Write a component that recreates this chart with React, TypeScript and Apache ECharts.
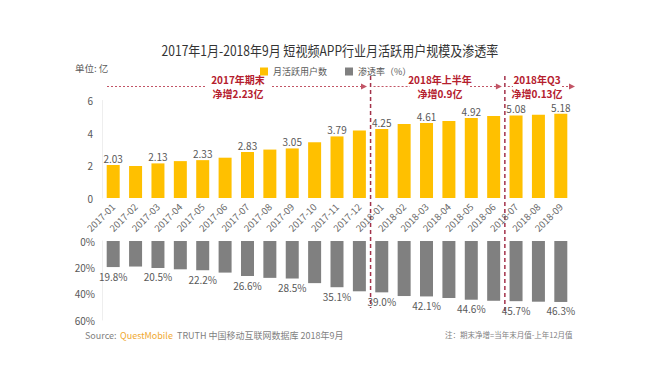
import React, { useEffect, useRef } from 'react';
import * as echarts from 'echarts';

const FONT = '"Noto Sans CJK SC", "Noto Sans", sans-serif';
const YELLOW = '#FFC000';
const GRAY = '#808080';
const RED = '#B5202E';
const LINE_RED = '#C25566';

const TITLE = '2017年1月-2018年9月 短视频APP行业月活跃用户规模及渗透率';
const SERIES_MAU = '月活跃用户数';
const SERIES_PEN = '渗透率（%）';

const months = [
  '2017-01', '2017-02', '2017-03', '2017-04', '2017-05', '2017-06', '2017-07',
  '2017-08', '2017-09', '2017-10', '2017-11', '2017-12', '2018-01', '2018-02',
  '2018-03', '2018-04', '2018-05', '2018-06', '2018-07', '2018-08', '2018-09',
];
const mau = [
  2.03, 1.97, 2.13, 2.27, 2.33, 2.48, 2.83, 2.98, 3.05, 3.43, 3.79, 4.15,
  4.25, 4.55, 4.61, 4.74, 4.92, 5.05, 5.08, 5.13, 5.18,
];
const penetration = [
  19.8, 19.4, 20.5, 21.5, 22.2, 24.0, 26.6, 28.0, 28.5, 32.0, 35.1, 38.2,
  39.0, 41.8, 42.1, 43.3, 44.6, 45.4, 45.7, 46.1, 46.3,
];
// indices whose values are written on the chart
const labeledIdx = [0, 2, 4, 6, 8, 10, 12, 14, 16, 18, 20];
const mauTicks = { min: 0, max: 6, interval: 2 };
const penTicks = { min: 0, max: 60, interval: 20 };

const periods = [
  { title: '2017年期末', sub: '净增2.23亿' },
  { title: '2018年上半年', sub: '净增0.9亿' },
  { title: '2018年Q3', sub: '净增0.13亿' },
];
const boundaryAfter = [11, 17]; // dashed separators after these month indices

const SOURCE_LABEL = 'Source:';
const SOURCE_BRAND = 'QuestMobile';
const SOURCE_REST = 'TRUTH 中国移动互联网数据库 2018年9月';
const NOTE = '注：期末净增=当年末月值-上年12月值';
const UNIT = '单位: 亿';

function txt(x: number, y: number, text: string, size: number, fill: string, align = 'left', extra: any = {}) {
  return {
    type: 'text',
    x,
    y,
    silent: true,
    style: {
      text,
      fontSize: size,
      fontFamily: FONT,
      fill,
      align,
      verticalAlign: 'middle',
      textAlign: align,
      textVerticalAlign: 'middle',
      ...extra,
    },
  };
}

function dotted(x1: number, x2: number, y: number) {
  return {
    type: 'line',
    silent: true,
    shape: { x1, y1: y, x2, y2: y },
    style: { stroke: LINE_RED, lineWidth: 1, lineDash: [2, 2] },
  };
}

function arrowHead(tip: number, y: number) {
  return {
    type: 'polygon',
    silent: true,
    shape: { points: [[tip - 6, y - 3], [tip, y], [tip - 6, y + 3]] },
    style: { fill: LINE_RED },
  };
}

export default function App() {
  const ref = useRef<HTMLDivElement>(null);

  useEffect(() => {
    if (!ref.current) return;
    const chart = echarts.init(ref.current, null, { renderer: 'svg' });
    const isLabeled = (i: number) => labeledIdx.indexOf(i) >= 0;

    chart.setOption({
      animation: false,
      backgroundColor: '#ffffff',
      textStyle: { fontFamily: FONT },
      legend: {
        data: [SERIES_MAU, SERIES_PEN],
        left: 255,
        top: 62,
        icon: 'rect',
        itemWidth: 8,
        itemHeight: 8,
        itemGap: 18,
        textStyle: { fontSize: 9, color: '#595959', fontFamily: FONT },
      },
      grid: [
        { left: 102, right: 96, top: 100.5, height: 97.5 },
        { left: 102, right: 96, top: 241, height: 79 },
      ],
      xAxis: [
        {
          type: 'category',
          gridIndex: 0,
          data: months,
          axisLine: { show: false },
          axisTick: { show: false },
          axisLabel: {
            rotate: 45,
            fontSize: 9.5,
            color: '#666666',
            margin: 7,
            interval: 0,
            fontFamily: FONT,
          },
        },
        {
          type: 'category',
          gridIndex: 1,
          data: months,
          position: 'top',
          axisLine: { show: false },
          axisTick: { show: false },
          axisLabel: { show: false },
        },
      ],
      yAxis: [
        {
          type: 'value',
          gridIndex: 0,
          ...mauTicks,
          axisLine: { show: true, lineStyle: { color: '#eeeeee' } },
          axisTick: { show: false },
          splitLine: { show: false },
          axisLabel: { fontSize: 10, color: '#595959', margin: 9, fontFamily: FONT },
        },
        {
          type: 'value',
          gridIndex: 1,
          inverse: true,
          ...penTicks,
          axisLine: { show: true, lineStyle: { color: '#eeeeee' } },
          axisTick: { show: false },
          splitLine: { show: false },
          axisLabel: {
            fontSize: 10,
            color: '#595959',
            margin: 7,
            formatter: '{value}%',
            fontFamily: FONT,
          },
        },
      ],
      series: [
        {
          type: 'bar',
          name: SERIES_MAU,
          xAxisIndex: 0,
          yAxisIndex: 0,
          data: mau,
          barWidth: 13,
          itemStyle: { color: YELLOW },
          label: {
            show: true,
            position: 'top',
            distance: 1,
            fontSize: 10,
            lineHeight: 11,
            color: '#595959',
            fontFamily: FONT,
            formatter: (p: any) => (isLabeled(p.dataIndex) ? Number(p.value).toFixed(2) : ''),
          },
        },
        {
          type: 'bar',
          name: SERIES_PEN,
          xAxisIndex: 1,
          yAxisIndex: 1,
          data: penetration,
          barWidth: 13,
          itemStyle: { color: GRAY },
          label: {
            show: true,
            position: 'bottom',
            distance: 4,
            fontSize: 10,
            color: '#595959',
            fontFamily: FONT,
            formatter: (p: any) => (isLabeled(p.dataIndex) ? Number(p.value).toFixed(1) + '%' : ''),
          },
        },
      ],
    });

    // separators between periods, positioned from the category axis
    const px = (i: number) => chart.convertToPixel({ xAxisIndex: 0 }, months[i]) as number;
    const bounds = boundaryAfter.map((i) => (px(i) + px(i + 1)) / 2);
    const arrowY = 86.5;
    const line1Y = 79.5;
    const line2Y = 93;
    const bold = { fontWeight: 'bold' };
    const label2 = (cx: number, k: number) => [
      txt(cx, line1Y, periods[k].title, 10, RED, 'center', bold),
      txt(cx, line2Y, periods[k].sub, 10, RED, 'center', bold),
    ];

    const elements: any[] = [
      {
        type: 'group',
        x: 330,
        y: 50,
        scaleX: 0.86,
        silent: true,
        children: [txt(0, 0, TITLE, 14, '#333333', 'center')],
      },
      txt(75, 68, UNIT, 9.5, '#595959'),
      ...bounds.map((bx, k) => ({
        type: 'line',
        silent: true,
        shape: { x1: bx, y1: 76, x2: bx, y2: k === 0 ? 308 : 312 },
        style: { stroke: '#A3324A', lineWidth: 1.5, lineDash: [4, 3] },
      })),
      // period 1
      dotted(107, 205, arrowY),
      ...label2(238, 0),
      dotted(272, 364, arrowY),
      arrowHead(367, arrowY),
      // period 2
      dotted(bounds[0] + 3, 410, arrowY),
      ...label2(440, 1),
      dotted(470, bounds[1] - 7, arrowY),
      arrowHead(bounds[1] - 3, arrowY),
      // period 3
      dotted(bounds[1] + 3, 513, arrowY),
      ...label2(537, 2),
      dotted(562, 570, arrowY),
      arrowHead(575, arrowY),
      // footer
      txt(85, 335, SOURCE_LABEL, 9, '#7f7f7f'),
      txt(120, 335, SOURCE_BRAND, 9, '#F0A830'),
      txt(177, 335, SOURCE_REST, 9, '#7f7f7f'),
      txt(445, 334, NOTE, 7.5, '#7f7f7f'),
    ];

    chart.setOption({ graphic: { elements } });

    return () => chart.dispose();
  }, []);

  return (
    <div
      ref={ref}
      style={{ position: 'fixed', left: 0, top: 0, width: 668, height: 368, background: '#fff' }}
    />
  );
}
